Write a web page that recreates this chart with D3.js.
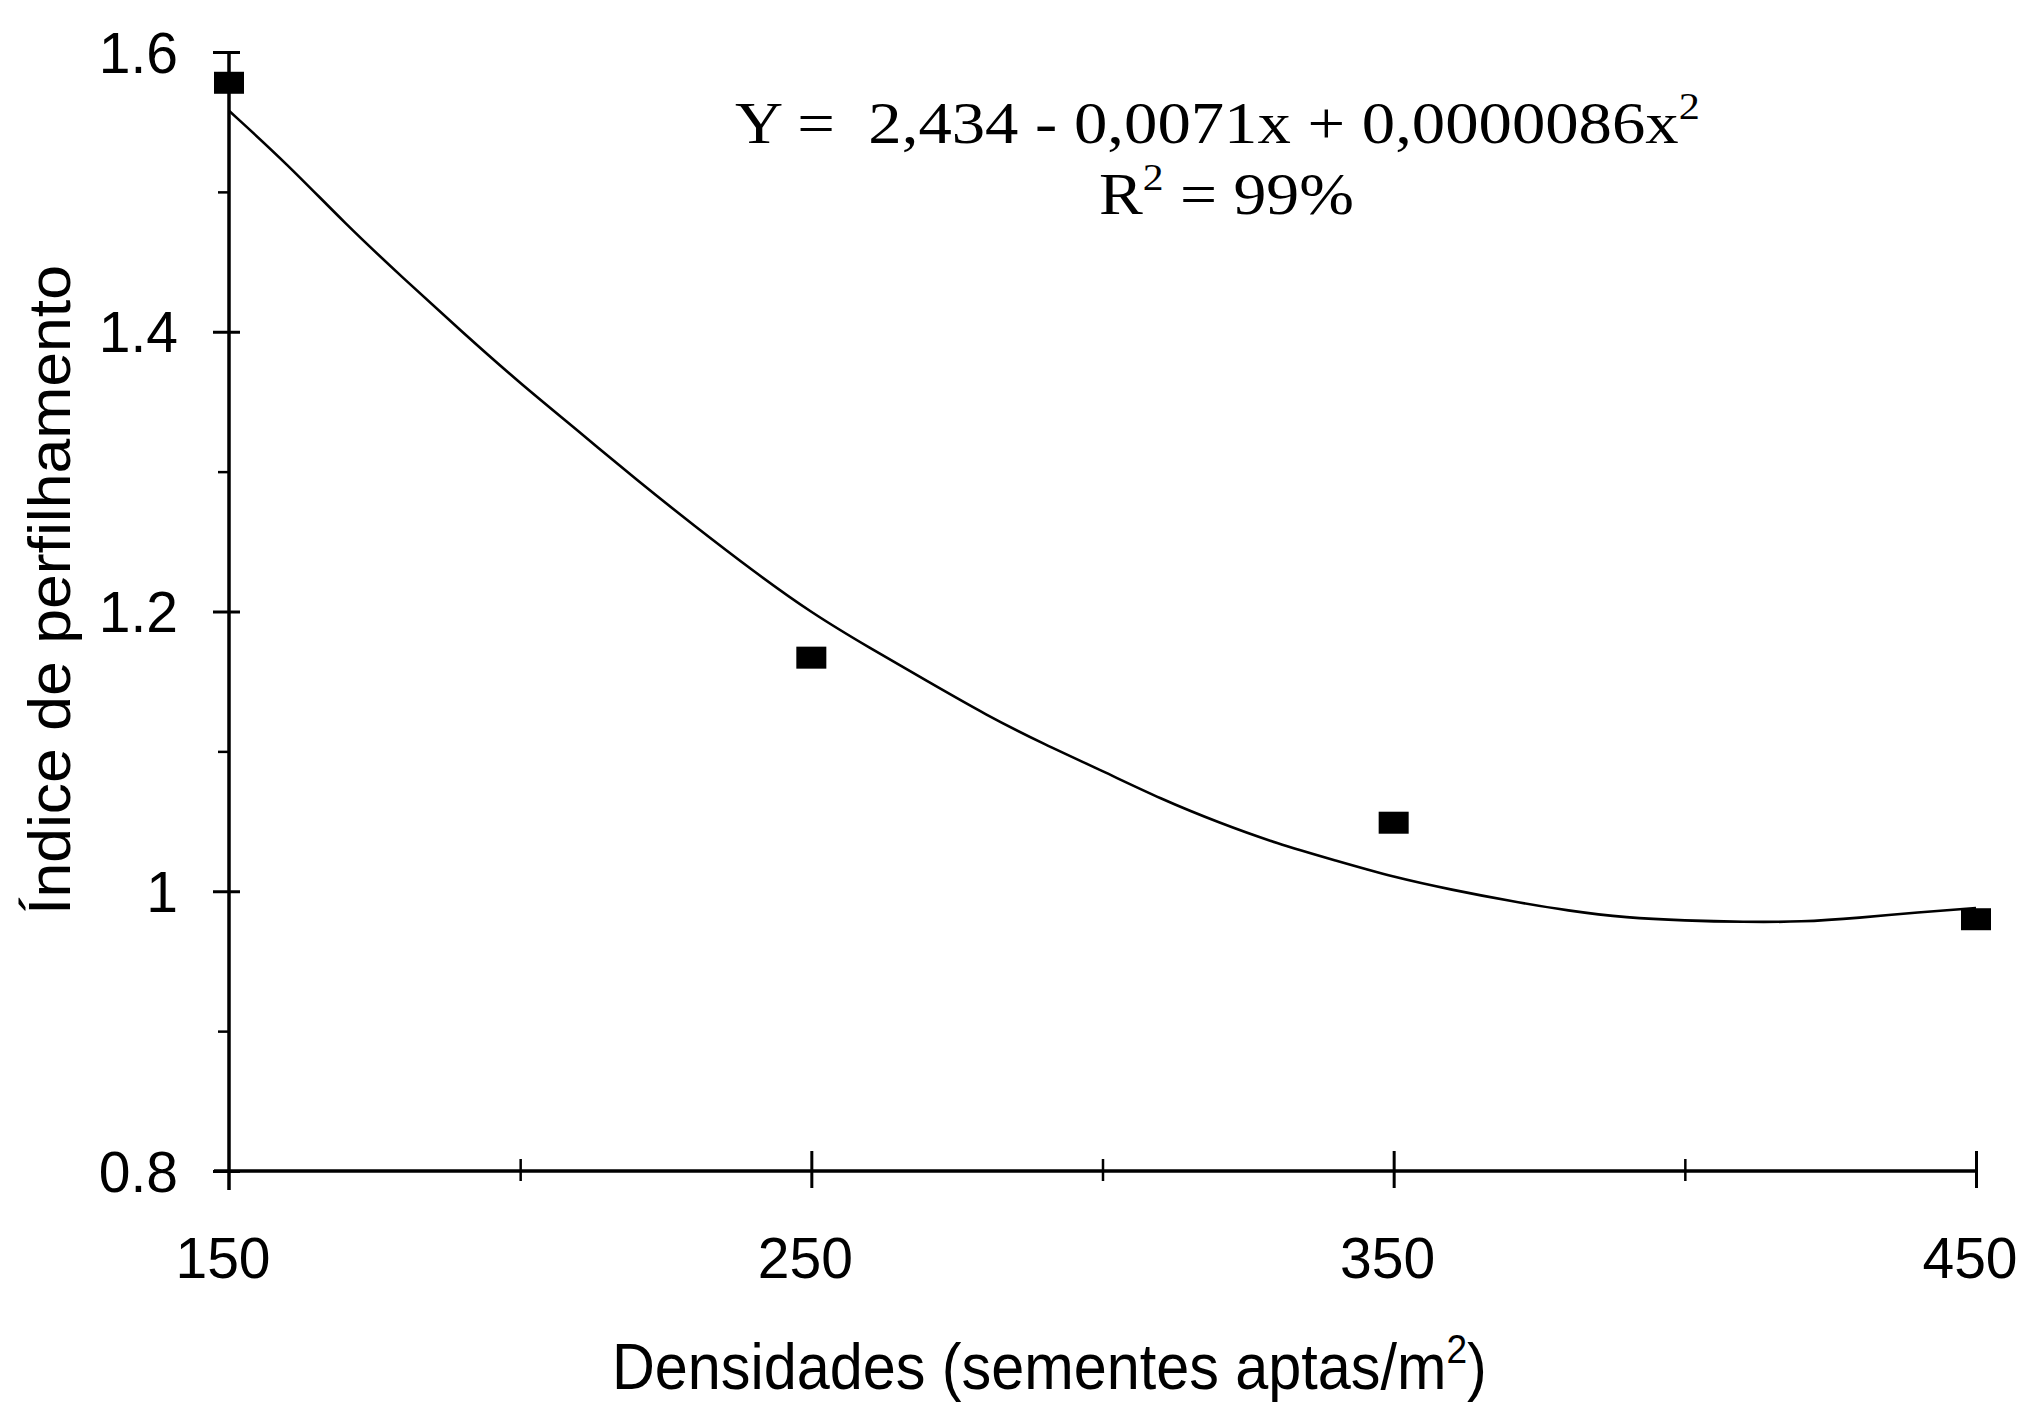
<!DOCTYPE html>
<html>
<head>
<meta charset="utf-8">
<script src="https://cdn.jsdelivr.net/npm/d3@7"></script>
<style>
  body { margin: 0; background: #fff; }
  svg { display: block; }
</style>
</head>
<body>
<svg id="chart" width="2023" height="1404"></svg>
<script>
// observed points
const densidades = [150, 250, 350, 450];
const indice = [1.578, 1.167, 1.049, 0.980];

// fitted curve
const trendX = [150, 160, 170, 180, 190, 200, 210, 220, 230, 240, 250, 260, 270, 280, 290, 300,
                310, 320, 330, 340, 350, 360, 370, 380, 390, 400, 410, 420, 430, 440, 450];
const trendY = [1.558, 1.520, 1.477, 1.438, 1.400, 1.363, 1.329, 1.294, 1.261, 1.229, 1.199, 1.174,
                1.150, 1.126, 1.105, 1.086, 1.066, 1.049, 1.034, 1.022, 1.010, 1.001, 0.993, 0.986,
                0.981, 0.979, 0.978, 0.978, 0.981, 0.985, 0.988];

const xTicks = [150, 250, 350, 450];
const xMinor = [200, 300, 400];
const yTicks = [0.8, 1, 1.2, 1.4, 1.6];
const yTickLabels = ["0.8", "1", "1.2", "1.4", "1.6"];
const yMinor = [0.9, 1.1, 1.3, 1.5];

const equationText = "Y =  2,434 - 0,0071x + 0,0000086x";
const r2Text = " = 99%";
const xTitle = "Densidades (sementes aptas/m";
const yTitle = "Índice de perfilhamento";

const svg = d3.select("#chart");
svg.append("rect").attr("width", 2023).attr("height", 1404).attr("fill", "#fff");

const x = d3.scaleLinear().domain([150, 450]).range([229, 1976]);
const y = d3.scaleLinear().domain([0.8, 1.6]).range([1171, 52]);

const sans = "'Liberation Sans', Arial, sans-serif";
const serif = "'Liberation Serif', 'Times New Roman', serif";

// horizontal stretch needed for a text node to span the wanted width
function fitWidth(node, width) {
    const w = node.getComputedTextLength();
    return width / w;
}

// ---- y axis
const yAxis = svg.append("g")
    .attr("transform", `translate(${x(150)},0)`)
    .call(d3.axisLeft(y).tickValues(yTicks).tickSize(16).tickFormat(""));
yAxis.select(".domain").remove();
yAxis.selectAll(".tick line").attr("x1", 11).attr("stroke", "#000").attr("stroke-width", 3);

svg.append("g")
    .attr("transform", `translate(${x(150)},0)`)
    .call(d3.axisLeft(y).tickValues(yMinor).tickSize(11).tickFormat(""))
    .call(g => g.select(".domain").remove())
    .selectAll(".tick line").attr("stroke", "#000").attr("stroke-width", 2.5);

svg.append("line")
    .attr("x1", x(150)).attr("x2", x(150))
    .attr("y1", y(1.6)).attr("y2", y(0.8) + 19)
    .attr("stroke", "#000").attr("stroke-width", 3.5);

svg.append("g").selectAll("text")
    .data(yTicks)
    .join("text")
    .attr("x", 178)
    .attr("y", d => y(d))
    .attr("dy", "0.36em")
    .attr("text-anchor", "end")
    .attr("font-family", sans)
    .attr("font-size", 57)
    .attr("fill", "#000")
    .text((d, i) => yTickLabels[i]);

// ---- x axis
const xAxis = svg.append("g")
    .attr("transform", `translate(0,${y(0.8)})`)
    .call(d3.axisBottom(x).tickValues(xTicks.slice(1)).tickSize(17).tickFormat(""));
xAxis.select(".domain").remove();
xAxis.selectAll(".tick line").attr("y1", -20).attr("stroke", "#000").attr("stroke-width", 3);

svg.append("g")
    .attr("transform", `translate(0,${y(0.8)})`)
    .call(d3.axisBottom(x).tickValues(xMinor).tickSize(10).tickFormat(""))
    .call(g => g.select(".domain").remove())
    .selectAll(".tick line").attr("y1", -12).attr("stroke", "#000").attr("stroke-width", 2.5);

svg.append("line")
    .attr("x1", x(150) - 15).attr("x2", x(450))
    .attr("y1", y(0.8)).attr("y2", y(0.8))
    .attr("stroke", "#000").attr("stroke-width", 3.5);

svg.append("g").selectAll("text")
    .data(xTicks)
    .join("text")
    .attr("x", d => x(d) - 6)
    .attr("y", 1278)
    .attr("text-anchor", "middle")
    .attr("font-family", sans)
    .attr("font-size", 57)
    .attr("fill", "#000")
    .text(d => d);

// ---- fitted curve
const line = d3.line()
    .x((d, i) => x(trendX[i]))
    .y(d => y(d))
    .curve(d3.curveBasis);

svg.append("path")
    .datum(trendY)
    .attr("d", line)
    .attr("fill", "none")
    .attr("stroke", "#000")
    .attr("stroke-width", 2.6);

// ---- points
svg.append("g").selectAll("rect")
    .data(densidades)
    .join("rect")
    .attr("x", d => x(d) - 15)
    .attr("y", (d, i) => y(indice[i]) - 11)
    .attr("width", 30)
    .attr("height", 22)
    .attr("fill", "#000");

// ---- equation
const eq = svg.append("text")
    .attr("x", 735)
    .attr("y", 143)
    .attr("font-family", serif)
    .attr("font-size", 60)
    .attr("fill", "#000")
    .style("white-space", "pre");
eq.append("tspan").text(equationText);
eq.append("tspan").attr("font-size", 38).attr("dy", -24).text("2");
const eqK = fitWidth(eq.node(), 965);
eq.attr("transform", `translate(735,0) scale(${eqK},1) translate(-735,0)`);

const r2 = svg.append("text")
    .attr("x", 1099)
    .attr("y", 214)
    .attr("font-family", serif)
    .attr("font-size", 60)
    .attr("fill", "#000")
    .style("white-space", "pre");
r2.append("tspan").text("R");
r2.append("tspan").attr("font-size", 38).attr("dy", -24).text("2");
r2.append("tspan").attr("dy", 24).text(r2Text);
const r2K = fitWidth(r2.node(), 255);
r2.attr("transform", `translate(1099,0) scale(${r2K},1) translate(-1099,0)`);

// ---- axis titles
const xt = svg.append("text")
    .attr("x", 612)
    .attr("y", 1389)
    .attr("font-family", sans)
    .attr("font-size", 64)
    .attr("fill", "#000");
xt.append("tspan").text(xTitle);
xt.append("tspan").attr("font-size", 40).attr("dy", -26).text("2");
xt.append("tspan").attr("dy", 26).text(")");
const xtK = fitWidth(xt.node(), 875);
xt.attr("transform", `translate(612,0) scale(${xtK},1) translate(-612,0)`);

const yt = svg.append("text")
    .attr("x", 0)
    .attr("y", 0)
    .attr("text-anchor", "middle")
    .attr("font-family", sans)
    .attr("font-size", 60)
    .attr("fill", "#000")
    .text(yTitle);
const ytK = fitWidth(yt.node(), 650);
yt.attr("transform", `translate(70,590) rotate(-90) scale(${ytK},1)`);
</script>
</body>
</html>
